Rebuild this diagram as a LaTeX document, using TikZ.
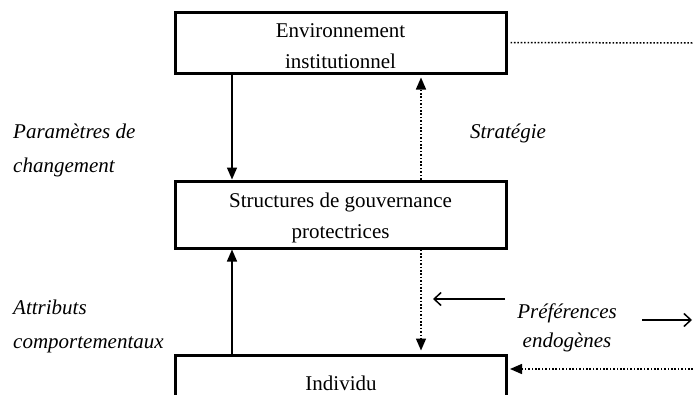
\documentclass[tikz,border=0pt]{standalone}
\usepackage{fontspec}
\setmainfont{Liberation Serif}
\usetikzlibrary{arrows.meta,calc}
\begin{document}
\begin{tikzpicture}[x=1pt,y=-1pt,
  box/.style={draw, line width=3pt, minimum width=331pt, align=center,
    inner sep=0pt, font=\fontsize{21}{31}\selectfont},
  lbl/.style={inner sep=0pt, font=\fontsize{21}{34}\selectfont\itshape},
  flow/.style={line width=1.5pt, -{Triangle[length=12pt,width=10pt]}},
  dotflow/.style={flow, dash pattern=on 1.6pt off 1.8pt},
  dotline/.style={line width=1.5pt, dash pattern=on 1.6pt off 1.8pt},
  hint/.style={line width=1.5pt, -{Straight Barb[length=7pt,width=13pt]}}
]
\useasboundingbox (0,0) rectangle (693,394);
\clip (0,0) rectangle (693,394);

% the three levels
\node[box, minimum height=61pt] (envt) at (340.5,42.5)
  {\strut Environnement\\institutionnel};
\node[box, minimum height=67pt] (gouv) at (340.5,214.5)
  {\strut Structures de gouvernance\\protectrices};
\node[box, minimum height=56pt] (indiv) at (341,383) {Individu};

% columns of the vertical links
\coordinate (colL) at (232,0);
\coordinate (colR) at (421,0);

\draw[flow] (envt.south -| colL) -- (gouv.north -| colL);
\draw[dotflow, shorten >=3pt] (gouv.north -| colR) -- (envt.south -| colR);
\draw[flow] (indiv.north -| colL) -- (gouv.south -| colL);
\draw[dotflow, shorten >=3pt] (gouv.south -| colR) -- (indiv.north -| colR);

% links leaving to the right
\coordinate (outTop) at (693,43);
\coordinate (inBot) at (693,369);
\draw[dotline, shorten <=3pt] (envt.east) -- (outTop);
\draw[dotflow, shorten >=2pt] (inBot) -- (indiv.east |- inBot);

% labels
\node[lbl, align=left, anchor=west] (param) at (13,150)
  {Paramètres de\\changement};
\node[lbl] (strat) at (508,133) {Stratégie};
\node[lbl, align=left, anchor=west] (attr) at (13,326)
  {Attributs\\comportementaux};
\node[lbl, align=center, font=\fontsize{21}{29}\selectfont\itshape]
  (pref) at (567,328) {Préférences\\endogènes};

% small arrows beside the preference label
\coordinate (aS) at (505,299);
\coordinate (aE) at (433,299);
\coordinate (bS) at (642,320);
\coordinate (bE) at (692,320);
\draw[hint] (aS) -- (aE);
\draw[hint] (bS) -- (bE);
\end{tikzpicture}
\end{document}
